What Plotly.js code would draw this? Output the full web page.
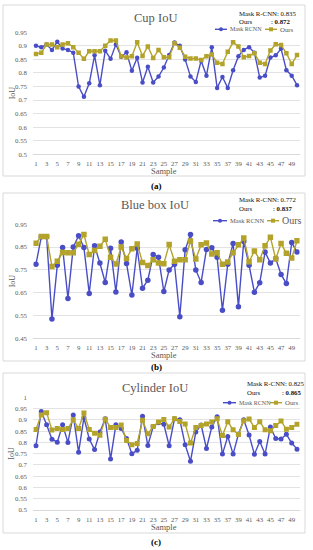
<!DOCTYPE html>
<html><head><meta charset="utf-8">
<script src="https://cdn.plot.ly/plotly-3.0.1.min.js"></script>
<style>html,body{margin:0;padding:0;background:#fff;}#chart{width:313px;height:550px;}</style>
</head><body><div id="chart"></div>
<script>
const samples = [1,2,3,4,5,6,7,8,9,10,11,12,13,14,15,16,17,18,19,20,21,22,23,24,25,26,27,28,29,30,31,32,33,34,35,36,37,38,39,40,41,42,43,44,45,46,47,48,49,50];
const xTickVals = [1,3,5,7,9,11,13,15,17,19,21,23,25,27,29,31,33,35,37,39,41,43,45,47,49];
const xTickText = ['1','3','5','7','9','11','13','15','17','19','21','23','25','27','29','31','33','35','37','39','41','43','45','47','49'];

const cupMask = [0.90,0.895,0.905,0.885,0.915,0.89,0.885,0.875,0.75,0.712,0.762,0.865,0.755,0.882,0.852,0.905,0.86,0.876,0.808,0.856,0.765,0.823,0.765,0.787,0.82,0.866,0.912,0.90,0.85,0.787,0.767,0.845,0.79,0.895,0.745,0.785,0.745,0.81,0.862,0.885,0.895,0.875,0.783,0.79,0.857,0.865,0.89,0.81,0.79,0.755];
const cupOurs = [0.87,0.875,0.905,0.905,0.895,0.905,0.91,0.895,0.875,0.852,0.88,0.88,0.88,0.9,0.92,0.92,0.862,0.857,0.862,0.913,0.863,0.898,0.855,0.885,0.858,0.858,0.91,0.893,0.86,0.853,0.853,0.848,0.862,0.868,0.838,0.833,0.878,0.913,0.898,0.858,0.863,0.873,0.838,0.833,0.883,0.906,0.903,0.873,0.833,0.866];

const boxMask = [0.775,0.895,0.895,0.535,0.77,0.848,0.625,0.85,0.90,0.848,0.647,0.856,0.78,0.695,0.845,0.653,0.872,0.778,0.64,0.845,0.67,0.705,0.817,0.806,0.655,0.75,0.775,0.545,0.838,0.905,0.75,0.695,0.84,0.847,0.805,0.573,0.775,0.866,0.588,0.875,0.77,0.652,0.694,0.828,0.78,0.80,0.73,0.69,0.87,0.828];
const boxOurs = [0.867,0.897,0.897,0.765,0.788,0.826,0.825,0.825,0.863,0.905,0.817,0.835,0.854,0.884,0.806,0.776,0.85,0.80,0.843,0.864,0.783,0.769,0.795,0.78,0.777,0.861,0.788,0.795,0.795,0.877,0.798,0.86,0.868,0.82,0.825,0.775,0.785,0.825,0.86,0.89,0.786,0.833,0.795,0.856,0.893,0.798,0.866,0.823,0.802,0.878];

const cylMask = [0.785,0.937,0.878,0.814,0.801,0.878,0.80,0.921,0.756,0.91,0.815,0.768,0.846,0.905,0.726,0.878,0.862,0.817,0.75,0.765,0.916,0.786,0.87,0.887,0.88,0.785,0.905,0.90,0.79,0.716,0.846,0.877,0.773,0.868,0.914,0.748,0.826,0.748,0.836,0.90,0.833,0.747,0.804,0.748,0.868,0.817,0.815,0.836,0.797,0.77];
const cylOurs = [0.857,0.922,0.932,0.855,0.862,0.857,0.862,0.90,0.862,0.93,0.857,0.84,0.832,0.903,0.866,0.866,0.877,0.808,0.79,0.795,0.898,0.838,0.87,0.89,0.902,0.868,0.905,0.893,0.882,0.797,0.866,0.875,0.882,0.89,0.905,0.83,0.892,0.856,0.835,0.896,0.904,0.866,0.892,0.856,0.852,0.875,0.895,0.858,0.866,0.88];

const y1Vals = [0.5,0.55,0.6,0.65,0.7,0.75,0.8,0.85,0.9,0.95];
const y1Text = ['0.5','0.55','0.6','0.65','0.7','0.75','0.8','0.85','0.9','0.95'];
const y2Vals = [0.45,0.55,0.65,0.75,0.85,0.95];
const y2Text = ['0.45','0.55','0.65','0.75','0.85','0.95'];
const y3Vals = [0.5,0.55,0.6,0.65,0.7,0.75,0.8,0.85,0.9,0.95,1];
const y3Text = ['0.5','0.55','0.6','0.65','0.7','0.75','0.8','0.85','0.9','0.95','1'];

const panelTitles = ['Cup IoU','Blue box IoU','Cylinder IoU'];
const maskMeans = ['0.835','0.772','0.825'];
const oursMeans = ['0.872','0.837','0.865'];
const panelLabels = ['(a)','(b)','(c)'];
const seriesNames = ['Mask RCNN','Ours'];

const BLUE = '#4a4ec6';
const GOLD = '#b3a32b';
const GRAY = '#595959';
const FONT = 'Liberation Serif, DejaVu Serif, serif';

function px(x){return x/313;}
function py(y){return 1-y/550;}

const traces = [];
const sets = [[cupMask,cupOurs],[boxMask,boxOurs],[cylMask,cylOurs]];
const msz = [4.5,5.5,5];
sets.forEach((s,i)=>{
  const xa = i===0?'x':'x'+(i+1);
  const ya = i===0?'y':'y'+(i+1);
  traces.push({x:samples,y:s[0],xaxis:xa,yaxis:ya,type:'scatter',mode:'lines+markers',name:seriesNames[0],
    line:{color:BLUE,width:1.4},marker:{symbol:'circle',size:msz[i],color:BLUE},showlegend:false,hoverinfo:'skip'});
  traces.push({x:samples,y:s[1],xaxis:xa,yaxis:ya,type:'scatter',mode:'lines+markers',name:seriesNames[1],
    line:{color:GOLD,width:1.4},marker:{symbol:'square',size:msz[i],color:GOLD},showlegend:false,hoverinfo:'skip'});
});

const P = [
  {top:32.3,bot:154.3,range:[0.5,0.95],tv:y1Vals,tt:y1Text,box:[5,176],title:18,m1:13.5,m2:21.5,annX:237,colX:269,leg:29.3,legX:[215,228,265,278],legFs:[6,6.8],label:185.5},
  {top:224.3,bot:338.3,range:[0.45,0.95],tv:y2Vals,tt:y2Text,box:[193,361],title:205,m1:199,m2:208,annX:237,colX:271,leg:220.7,legX:[213,228,267,280],legFs:[6.5,10],label:367},
  {top:397.3,bot:510,range:[0.5,1],tv:y3Vals,tt:y3Text,box:[373,533],title:388,m1:383,m2:392,annX:245,colX:280,leg:402.7,legX:[223,237,270,283],legFs:[6,6.8],label:541.5}
];

const layout = {
  width:313,height:550,margin:{l:0,r:0,t:0,b:0},paper_bgcolor:'#fff',plot_bgcolor:'#fff',
  font:{family:FONT,color:GRAY,size:7},showlegend:false,annotations:[],shapes:[]
};

P.forEach((p,i)=>{
  const sfx = i===0?'':String(i+1);
  layout['xaxis'+sfx] = {domain:[px(33.3),px(299.7)],range:[0.5,50.5],anchor:'y'+sfx,tickvals:xTickVals,ticktext:xTickText,
    showgrid:false,zeroline:false,showline:true,linecolor:'#d9d9d9',linewidth:1,ticks:'outside',ticklen:3,tickcolor:'rgba(0,0,0,0)',
    tickfont:{family:FONT,size:6.8,color:GRAY},fixedrange:true};
  layout['yaxis'+sfx] = {domain:[py(p.bot),py(p.top)],range:p.range,anchor:'x'+sfx,tickvals:p.tv,ticktext:p.tt,
    showgrid:true,gridcolor:'#e3e3e3',gridwidth:1,zeroline:false,showline:false,ticks:'outside',ticklen:4,tickcolor:'rgba(0,0,0,0)',
    tickfont:{family:FONT,size:6.8,color:GRAY},fixedrange:true};
  layout.shapes.push({type:'rect',xref:'paper',yref:'paper',x0:px(3),x1:px(305),y0:py(p.box[1]),y1:py(p.box[0]),line:{color:'#d9d9d9',width:1},fillcolor:'rgba(0,0,0,0)'});
  layout.annotations.push({xref:'paper',yref:'paper',x:px(155),y:py(p.title),text:panelTitles[i],showarrow:false,xanchor:'center',yanchor:'middle',font:{family:FONT,size:12.5,color:GRAY}});
  layout.annotations.push({xref:'paper',yref:'paper',x:px(p.annX),y:py(p.m1),text:'Mask R-CNN: '+maskMeans[i],showarrow:false,xanchor:'left',yanchor:'middle',font:{family:FONT,size:6.8,color:'#111'}});
  layout.annotations.push({xref:'paper',yref:'paper',x:px(p.annX),y:py(p.m2),text:'Ours',showarrow:false,xanchor:'left',yanchor:'middle',font:{family:FONT,size:6.8,color:'#111'}});
  layout.annotations.push({xref:'paper',yref:'paper',x:px(p.colX),y:py(p.m2),text:': <b>'+oursMeans[i]+'</b>',showarrow:false,xanchor:'left',yanchor:'middle',font:{family:FONT,size:6.8,color:'#111'}});
  const L = p.legX;
  layout.shapes.push({type:'line',xref:'paper',yref:'paper',x0:px(L[0]),x1:px(L[1]-1),y0:py(p.leg),y1:py(p.leg),line:{color:BLUE,width:1.4}});
  const cx = (L[0]+L[1]-1)/2, r=2;
  layout.shapes.push({type:'circle',xref:'paper',yref:'paper',x0:px(cx-r),x1:px(cx+r),y0:py(p.leg+r),y1:py(p.leg-r),fillcolor:BLUE,line:{color:BLUE,width:0}});
  layout.annotations.push({xref:'paper',yref:'paper',x:px(L[1]),y:py(p.leg),text:seriesNames[0],showarrow:false,xanchor:'left',yanchor:'middle',font:{family:FONT,size:p.legFs[0],color:GRAY}});
  layout.shapes.push({type:'line',xref:'paper',yref:'paper',x0:px(L[2]),x1:px(L[3]-1),y0:py(p.leg),y1:py(p.leg),line:{color:GOLD,width:1.4}});
  const gx = (L[2]+L[3]-1)/2;
  layout.shapes.push({type:'rect',xref:'paper',yref:'paper',x0:px(gx-r),x1:px(gx+r),y0:py(p.leg+r),y1:py(p.leg-r),fillcolor:GOLD,line:{color:GOLD,width:0}});
  layout.annotations.push({xref:'paper',yref:'paper',x:px(L[3]),y:py(p.leg),text:seriesNames[1],showarrow:false,xanchor:'left',yanchor:'middle',font:{family:FONT,size:p.legFs[1],color:GRAY}});
  layout.annotations.push({xref:'paper',yref:'paper',x:px(12),y:py((p.top+p.bot)/2),text:'IoU',textangle:-90,showarrow:false,xanchor:'center',yanchor:'middle',font:{family:FONT,size:8,color:GRAY}});
  layout.annotations.push({xref:'paper',yref:'paper',x:px(164),y:py(p.bot+17),text:'Sample',showarrow:false,xanchor:'center',yanchor:'middle',font:{family:FONT,size:8.5,color:GRAY}});
  layout.annotations.push({xref:'paper',yref:'paper',x:px(156),y:py(p.label),text:'<b>'+panelLabels[i]+'</b>',showarrow:false,xanchor:'center',yanchor:'middle',font:{family:FONT,size:9,color:'#000'}});
});

Plotly.newPlot('chart',traces,layout,{staticPlot:true,displayModeBar:false});
</script></body></html>
